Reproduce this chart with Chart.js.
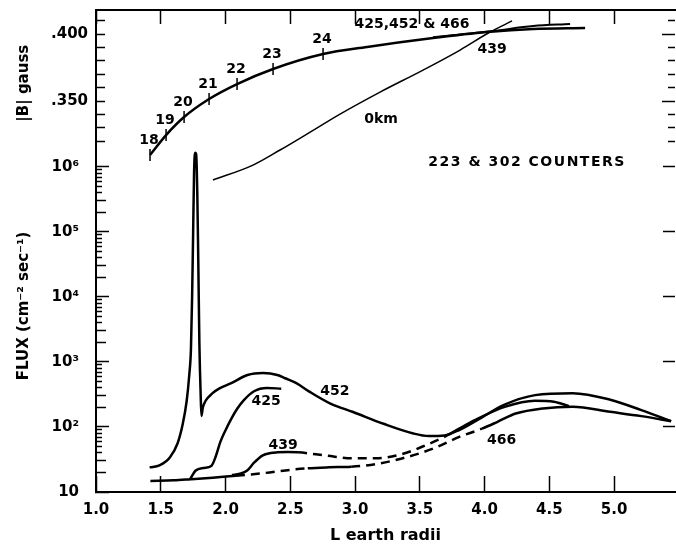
<!DOCTYPE html>
<html>
<head>
<meta charset="utf-8">
<script src="https://cdn.jsdelivr.net/npm/chart.js@4.4.1/dist/chart.umd.min.js"></script>
<style>
  body { margin: 0; background: #fff; }
  #wrap { width: 676px; height: 545px; }
</style>
</head>
<body>
<div id="wrap"><canvas id="fluxChart"></canvas></div>
<script>
// Flujo (cm^-2 sec^-1) contra L (earth radii)
const l452 = [1.414, 1.49, 1.57, 1.63, 1.67, 1.70, 1.72, 1.733, 1.742, 1.75, 1.757, 1.765, 1.773, 1.782, 1.79, 1.798, 1.808, 1.814, 1.825, 1.845, 1.90, 1.95, 2.04, 2.17, 2.29, 2.40, 2.46, 2.55, 2.65, 2.81, 2.985, 3.22, 3.45, 3.57, 3.69, 3.80, 3.98, 4.15, 4.39, 4.68, 4.97, 5.21, 5.44];
const flux452 = [23.9, 25.7, 33.9, 56.2, 112, 251, 631, 1580, 10000, 100000, 794000, 1660000, 1580000, 398000, 31600, 2000, 316, 148, 200, 251, 331, 389, 468, 631, 676, 631, 562, 468, 347, 229, 170, 112, 79.4, 72.4, 74.1, 89.1, 141, 219, 309, 331, 263, 182, 123];

const l425 = [1.727, 1.77, 1.83, 1.89, 1.925, 1.96, 2.00, 2.04, 2.09, 2.14, 2.22, 2.32, 2.43];
const flux425 = [15.8, 21.4, 23.4, 25.1, 35.5, 58.9, 89.1, 129, 191, 257, 355, 398, 389];

const l439 = [2.05, 2.11, 2.167, 2.22, 2.284, 2.35, 2.40, 2.48, 2.56, 2.78, 2.985, 3.16, 3.365, 3.541, 3.687, 3.80, 3.92, 4.155, 4.389, 4.535, 4.652];
const flux439 = [18.2, 19.1, 21.4, 28.2, 36.3, 39.8, 40.7, 41.2, 40.7, 36.3, 33.0, 33.0, 38.5, 51.9, 70.0, 93.3, 126, 204, 254, 245, 209];
// tramo i (punto i -> i+1) a trazos
const dashed439 = [false, false, false, false, false, false, false, false, true, true, true, true, true, true, false, false, false, false, false, false];

const l466 = [1.42, 1.60, 1.73, 1.90, 2.08, 2.20, 2.34, 2.50, 2.635, 2.80, 2.97, 3.16, 3.395, 3.63, 3.80, 3.98, 4.10, 4.24, 4.45, 4.68, 4.97, 5.21, 5.44];
const flux466 = [14.8, 15.1, 15.7, 16.6, 17.8, 18.6, 20.0, 21.9, 23.2, 24.0, 24.5, 26.9, 34.2, 48.9, 70.0, 94.2, 120, 161, 193, 205, 171, 147, 123];
const dashed466 = [false, false, false, false, true, true, true, true, false, false, true, true, true, true, true, false, false, false, false, false, false, false];

// |B| (gauss) a lo largo de la órbita
const lB = [1.417, 1.541, 1.680, 1.873, 2.089, 2.367, 2.753, 3.093, 3.602, 4.019, 4.375, 4.776];
const bMain = [0.3096, 0.3245, 0.3380, 0.3515, 0.3627, 0.3740, 0.3852, 0.3905, 0.3972, 0.4017, 0.4040, 0.4047];
const lBUpper = [3.602, 4.066, 4.375, 4.660];
const bUpper = [0.3978, 0.4025, 0.4062, 0.4077];
const l0km = [1.903, 2.212, 2.421, 2.653, 2.884, 3.193, 3.525, 3.811, 4.042, 4.212];
const b0km = [0.2908, 0.3020, 0.3133, 0.3267, 0.3402, 0.3567, 0.3732, 0.3882, 0.4017, 0.4100];
const markL = [1.417, 1.541, 1.680, 1.873, 2.089, 2.367, 2.753];
const markB = [0.3096, 0.3245, 0.3380, 0.3515, 0.3627, 0.3740, 0.3852];
const markLabels = ["18", "19", "20", "21", "22", "23", "24"];

// Textos dentro del gráfico
const noteText = ["452", "425", "439", "466", "223 & 302 COUNTERS", "425,452 & 466", "439", "0km"];
const noteL = [2.845, 2.313, 2.444, 4.132, 4.328, 3.44, 4.058, 3.201];
const noteValue = [350, 245, 51.9, 62.1, 1190000, 0.4077, 0.3890, 0.3365];
const noteAxis = ["yF", "yF", "yF", "yF", "yF", "yB", "yB", "yB"];

// Ejes
const xTicks = [1.0, 1.5, 2.0, 2.5, 3.0, 3.5, 4.0, 4.5, 5.0];
const bTicks = [0.32, 0.33, 0.34, 0.35, 0.36, 0.37, 0.38, 0.39, 0.40, 0.41];
const bLabelValues = [0.35, 0.40];
const bLabelText = [".350", ".400"];
const fluxDecades = [10, 100, 1000, 10000, 100000, 1000000];
const fluxDecadeText = ["10", "10²", "10³", "10⁴", "10⁵", "10⁶"];

const fluxTicks = [];
fluxDecades.forEach((d, i) => {
  fluxTicks.push(d);
  if (i < fluxDecades.length - 1) {
    for (let m = 2; m <= 9; m++) fluxTicks.push(d * m);
  }
});

const pts = (xs, ys) => xs.map((x, i) => ({ x: x, y: ys[i] }));
const near = (a, b) => Math.abs(a - b) < 1e-6 * Math.max(1, Math.abs(b));
const mantissa = (v) => Math.round(v / Math.pow(10, Math.floor(Math.log10(v) + 1e-9)));

const fluxLabel = (v) => {
  const i = fluxDecades.findIndex((d) => near(v, d));
  return i >= 0 ? fluxDecadeText[i] : "";
};
const bLabel = (v) => {
  const i = bLabelValues.findIndex((b) => near(v, b));
  return i >= 0 ? bLabelText[i] : "";
};

// tamaño fijo de cada eje, sin el margen extra de las etiquetas
const fixSize = (w, h) => (axis) => {
  if (w !== null) axis.width = w;
  if (h !== null) axis.height = h;
  axis.paddingTop = 0;
  axis.paddingBottom = 0;
  axis.paddingLeft = 0;
  axis.paddingRight = 0;
};

const notesPlugin = {
  id: "notes",
  afterDatasetsDraw(chart) {
    const ctx = chart.ctx;
    ctx.save();
    ctx.fillStyle = "#000";
    ctx.font = 'bold 14px "DejaVu Sans"';
    ctx.textAlign = "center";
    ctx.textBaseline = "middle";
    noteText.forEach((t, i) => {
      const x = chart.scales.x.getPixelForValue(noteL[i]);
      const y = chart.scales[noteAxis[i]].getPixelForValue(noteValue[i]);
      ctx.letterSpacing = t.length > 14 ? "1.5px" : "0px";
      ctx.fillText(t, x, y);
    });
    ctx.letterSpacing = "0px";
    // números encima de las marcas de la curva |B|
    markLabels.forEach((t, i) => {
      const x = chart.scales.x.getPixelForValue(markL[i]);
      const y = chart.scales.yB.getPixelForValue(markB[i]);
      ctx.fillText(t, x - 1, y - 15);
    });
    ctx.restore();
  },
};

Chart.defaults.font.family = '"DejaVu Sans", sans-serif';
Chart.defaults.color = "#000";

const line = { borderColor: "#000", borderWidth: 2.5, pointRadius: 0, fill: false, cubicInterpolationMode: "monotone" };
const tickFont = { size: 15, weight: "bold" };

new Chart(document.getElementById("fluxChart").getContext("2d"), {
  type: "line",
  data: {
    datasets: [
      { ...line, label: "452", data: pts(l452, flux452), yAxisID: "yF" },
      { ...line, label: "425", data: pts(l425, flux425), yAxisID: "yF" },
      {
        ...line, label: "439", data: pts(l439, flux439), yAxisID: "yF",
        segment: { borderDash: (c) => (dashed439[c.p0DataIndex] ? [9, 6] : undefined) },
      },
      {
        ...line, label: "466", data: pts(l466, flux466), yAxisID: "yF",
        segment: { borderDash: (c) => (dashed466[c.p0DataIndex] ? [9, 6] : undefined) },
      },
      { ...line, label: "|B|", data: pts(lB, bMain), yAxisID: "yB", clip: false },
      { ...line, label: "|B| 2", data: pts(lBUpper, bUpper), yAxisID: "yB", borderWidth: 2, clip: false },
      { ...line, label: "0km", data: pts(l0km, b0km), yAxisID: "yB", borderWidth: 1.5, clip: false },
      {
        label: "marks", data: pts(markL, markB), yAxisID: "yB", showLine: false, clip: false,
        pointStyle: "line", pointRotation: 90, pointRadius: 6, pointBorderWidth: 1.5,
        borderColor: "#000", backgroundColor: "#000",
      },
    ],
  },
  options: {
    responsive: true,
    maintainAspectRatio: false,
    animation: false,
    layout: { autoPadding: false, padding: { top: 10, right: 1, bottom: 0, left: 0 } },
    plugins: {
      legend: { display: false },
      tooltip: { enabled: false },
    },
    scales: {
      x: {
        type: "linear",
        position: "bottom",
        min: 1.0,
        max: 5.47,
        afterBuildTicks: (axis) => { axis.ticks = xTicks.map((v) => ({ value: v })); },
        afterFit: fixSize(null, 53),
        ticks: { autoSkip: false, maxRotation: 0, padding: 25, font: tickFont, callback: (v) => Number(v).toFixed(1) },
        grid: { drawOnChartArea: false, tickLength: -16, tickColor: "#000", tickWidth: 1.5 },
        border: { color: "#000", width: 2 },
        title: { display: true, text: "L earth radii", font: { size: 16, weight: "bold" }, padding: { top: 0, bottom: 0 } },
      },
      x2: {
        type: "linear",
        position: "top",
        min: 1.0,
        max: 5.47,
        afterBuildTicks: (axis) => { axis.ticks = xTicks.map((v) => ({ value: v })); },
        afterFit: fixSize(null, 0),
        ticks: { display: false },
        grid: { drawOnChartArea: false, tickLength: -14, tickColor: "#000", tickWidth: 1.5 },
        border: { color: "#000", width: 2 },
      },
      yF: {
        type: "logarithmic",
        position: "left",
        stack: "left",
        stackWeight: 346,
        min: 10,
        max: 2100000,
        afterBuildTicks: (axis) => { axis.ticks = fluxTicks.map((v) => ({ value: v })); },
        afterFit: fixSize(96, null),
        ticks: { autoSkip: false, padding: 30, font: tickFont, callback: (v) => fluxLabel(v) },
        grid: {
          drawOnChartArea: false,
          tickLength: -13,
          tickColor: "#000",
          tickWidth: 1.5,
          // marcas menores más cortas, pegadas al eje
          tickBorderDash: (c) => (mantissa(c.tick.value) === 1 ? [] : [30, 10]),
          tickBorderDashOffset: (c) => (mantissa(c.tick.value) <= 3 ? 37 : 33),
        },
        border: { color: "#000", width: 2 },
        title: {
          display: true,
          text: "\u00a0\u00a0\u00a0\u00a0\u00a0FLUX (cm⁻² sec⁻¹)",
          font: { size: 15, weight: "bold" },
          padding: { top: 15, bottom: 0 },
        },
      },
      yB: {
        type: "linear",
        position: "left",
        stack: "left",
        stackWeight: 136,
        min: 0.3163,
        max: 0.4182,
        afterBuildTicks: (axis) => { axis.ticks = bTicks.map((v) => ({ value: v })); },
        afterFit: fixSize(96, null),
        ticks: { autoSkip: false, padding: 17, font: tickFont, callback: (v) => bLabel(v) },
        grid: { drawOnChartArea: false, tickLength: -9, tickColor: "#000", tickWidth: 1.5 },
        border: { color: "#000", width: 2 },
        title: {
          display: true,
          text: "|B| gauss\u00a0\u00a0",
          font: { size: 15, weight: "bold" },
          padding: { top: 15, bottom: 0 },
        },
      },
      yBR: {
        type: "linear",
        position: "right",
        stack: "right",
        stackWeight: 136,
        min: 0.3163,
        max: 0.4182,
        afterBuildTicks: (axis) => { axis.ticks = bTicks.map((v) => ({ value: v })); },
        afterFit: fixSize(0, null),
        ticks: { display: false },
        grid: {
          drawOnChartArea: false,
          tickLength: -13,
          tickColor: "#000",
          tickWidth: 1.5,
          tickBorderDash: (c) => (bLabel(c.tick.value) ? [] : [7, 30]),
        },
        border: { display: false },
      },
      yFR: {
        type: "logarithmic",
        position: "right",
        stack: "right",
        stackWeight: 346,
        min: 10,
        max: 2100000,
        afterBuildTicks: (axis) => { axis.ticks = fluxDecades.slice(1).map((v) => ({ value: v })); },
        afterFit: fixSize(0, null),
        ticks: { display: false },
        grid: { drawOnChartArea: false, tickLength: -12, tickColor: "#000", tickWidth: 1.5 },
        border: { display: false },
      },
    },
  },
  plugins: [notesPlugin],
});
</script>
</body>
</html>
